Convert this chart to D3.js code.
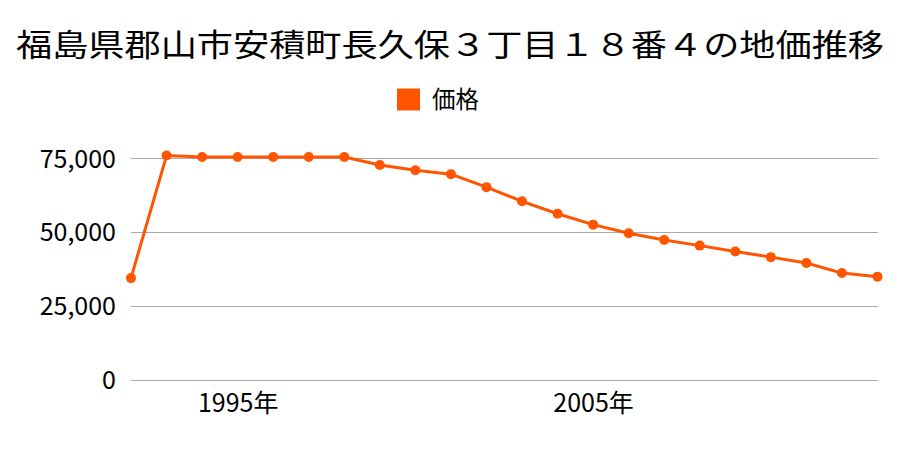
<!DOCTYPE html>
<html><head><meta charset="utf-8">
<script src="https://cdn.jsdelivr.net/npm/d3@7"></script>
<style>body{margin:0;background:#fff}svg{display:block}</style>
</head><body>
<svg id="c" width="900" height="450"></svg>
<script>
const years = [1992,1993,1994,1995,1996,1997,1998,1999,2000,2001,2002,2003,2004,2005,2006,2007,2008,2009,2010,2011,2012,2013];
const prices = [34500,76000,75500,75500,75500,75500,75500,72800,71000,69700,65300,60500,56300,52600,49700,47400,45500,43500,41600,39600,36200,35000];
const yTicks = [0,25000,50000,75000];
const xTickYears = [1995,2005];
const title = "福島県郡山市安積町長久保３丁目１８番４の地価推移";
const seriesName = "価格";

const font = "'Noto Sans CJK JP','Noto Sans',sans-serif";
const color = "#ff5500";
const svg = d3.select("#c");
const x = d3.scalePoint().domain(years).range([131, 877.5]);
const y = d3.scaleLinear().domain([0, 75000]).range([380, 158.5]);

svg.append("text").attr("x", 450).attr("y", 56).attr("text-anchor","middle")
  .attr("font-family", font).attr("font-size", 31).attr("fill","#000")
  .attr("textLength", 868).attr("lengthAdjust","spacingAndGlyphs").text(title);

svg.append("rect").attr("x",397).attr("y",88.5).attr("width",23).attr("height",22).attr("fill",color);
svg.append("text").attr("x",432).attr("y",108).attr("font-family",font).attr("font-size",23.5).attr("fill","#000").text(seriesName);

const grid = svg.append("g");
grid.selectAll("line").data(yTicks).join("line")
  .attr("x1",131).attr("x2",878).attr("y1",d=>y(d)).attr("y2",d=>y(d))
  .attr("stroke","#aaa").attr("stroke-width",1).attr("shape-rendering","crispEdges");

const yAxis = d3.axisLeft(y).tickValues(yTicks).tickSize(0).tickPadding(0).tickFormat(d3.format(","));
const gy = svg.append("g").attr("transform","translate(116,0)").call(yAxis);
gy.select(".domain").remove();
gy.selectAll("text").attr("font-family",font).attr("font-size",25).attr("fill","#000").attr("dy","0.34em");

const xAxis = d3.axisBottom(x).tickValues(xTickYears).tickSize(0).tickPadding(0).tickFormat(d=>d+"年");
const gx = svg.append("g").attr("transform","translate(0,412)").call(xAxis);
gx.select(".domain").remove();
gx.selectAll("text").attr("font-family",font).attr("font-size",25).attr("fill","#000").attr("y",0).attr("dy","0");

const data = years.map((yr,i)=>({yr, v:prices[i]}));
svg.append("path").datum(data)
  .attr("d", d3.line().x(d=>x(d.yr)).y(d=>y(d.v)))
  .attr("fill","none").attr("stroke",color).attr("stroke-width",3).attr("stroke-linejoin","round");
svg.append("g").selectAll("circle").data(data).join("circle")
  .attr("cx",d=>x(d.yr)).attr("cy",d=>y(d.v)).attr("r",5).attr("fill",color);
</script>
</body></html>
